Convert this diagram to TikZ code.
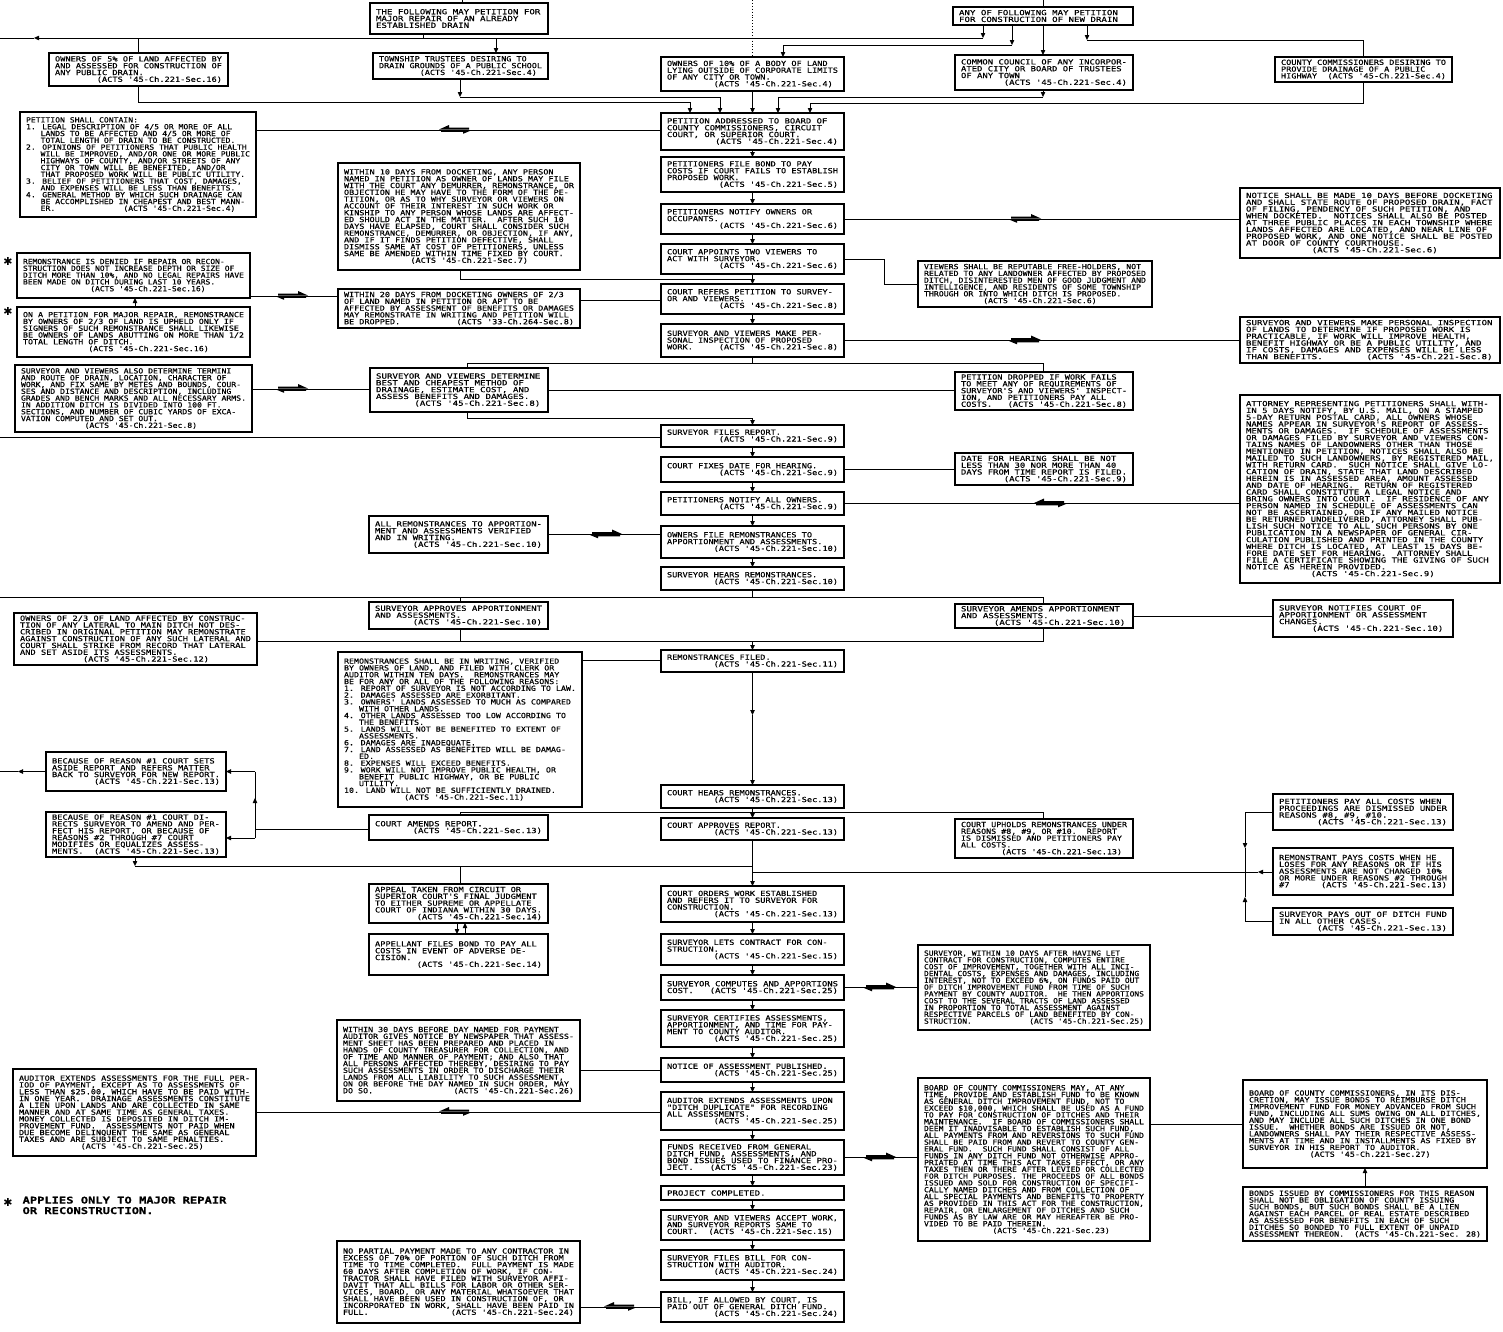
\documentclass[tikz,border=0pt]{standalone}
\usepackage{fontspec}
\usepackage{graphicx}
\usetikzlibrary{arrows.meta}
\newfontfamily\lettering[FakeStretch=1.3,FakeBold=0.35]{DejaVu Sans Mono}
\newfontfamily\symfont{DejaVu Sans}
\newsavebox\tbox
\newlength\tw
\newlength\cw
\newcommand\ind[1]{\hspace*{#1\cw}}
\newcommand\boxtext[3]{%
  \setlength\tw{\dimexpr #2pt-#1pt-12pt\relax}%
  \sbox\tbox{\lettering\fontsize{7}{6.8}\selectfont\settowidth\cw{0}%
    \vbox{\baselineskip=6.8pt\lineskiplimit=-\maxdimen\lineskip=0pt\let\\\cr
      \halign{##\hfil\cr #3\crcr}}}%
  \ifdim\wd\tbox>\tw\relax
    \resizebox{\tw}{\height}{\usebox\tbox}%
  \else
    \makebox[\tw][l]{\usebox\tbox}%
  \fi}
\newcommand\bx[6]{%
  \node[bx, minimum width={(#4-#2)*1pt}, minimum height={(#5-#3)*1pt}]
    (#1) at ({(#2+#4)/2},{(#3+#5)/2}) {\boxtext{#2}{#4}{#6}};}
\pgfdeclarelayer{bg}
\pgfsetlayers{bg,main}
\tikzset{
  bx/.style={draw,fill=white,line width=1.4pt,inner sep=0pt,outer sep=0pt},
  harpL/.pic={\fill (-16,-0.5) -- (-6,-5) -- (-6,-2.4) -- (14,-2.4) -- (14,-0.5) -- cycle;
              \fill (16,0.5) -- (8,3.8) -- (8,1.8) -- (-14,1.8) -- (-14,0.5) -- cycle;}
}
\begin{document}
\begin{tikzpicture}[x=1pt,y=-1pt,line width=1.2pt,>={Triangle[length=5pt,width=4.5pt]}]
\useasboundingbox (0,0) rectangle (1503,1331);

% ---------------- top row
\bx{A}{370}{3}{548}{34}{THE FOLLOWING MAY PETITION FOR\\MAJOR REPAIR OF AN ALREADY\\ESTABLISHED DRAIN}
\bx{B}{953}{7}{1133}{25}{ANY OF FOLLOWING MAY PETITION\\FOR CONSTRUCTION OF NEW DRAIN}
\bx{C1}{49}{53}{228}{86}{OWNERS OF 5\% OF LAND AFFECTED BY\\AND ASSESSED FOR CONSTRUCTION OF\\ANY PUBLIC DRAIN.\\\ind{8}(ACTS '45-Ch.221-Sec.16)}
\bx{C2}{373}{53}{548}{79}{TOWNSHIP TRUSTEES DESIRING TO\\DRAIN GROUNDS OF A PUBLIC SCHOOL\\\ind{8}(ACTS '45-Ch.221-Sec.4)}
\bx{C3}{661}{57}{844}{91}{OWNERS OF 10\% OF A BODY OF LAND\\LYING OUTSIDE OF CORPORATE LIMITS\\OF ANY CITY OR TOWN.\\\ind{9}(ACTS '45-Ch.221-Sec.4)}
\bx{C4}{955}{55}{1133}{90}{COMMON COUNCIL OF ANY INCORPOR-\\ATED CITY OR BOARD OF TRUSTEES\\OF ANY TOWN\\\ind{8}(ACTS '45-Ch.221-Sec.4)}
\bx{C5}{1275}{57}{1452}{82}{COUNTY COMMISSIONERS DESIRING TO\\PROVIDE DRAINAGE OF A PUBLIC\\HIGHWAY \ind{1}(ACTS '45-Ch.221-Sec.4)}

% ---------------- left column
\bx{L1}{20}{112}{256}{217}{PETITION SHALL CONTAIN:\\1. LEGAL DESCRIPTION OF 4/5 OR MORE OF ALL\\\ind{3}LANDS TO BE AFFECTED AND 4/5 OR MORE OF\\\ind{3}TOTAL LENGTH OF DRAIN TO BE CONSTRUCTED.\\2. OPINIONS OF PETITIONERS THAT PUBLIC HEALTH\\\ind{3}WILL BE IMPROVED, AND/OR ONE OR MORE PUBLIC\\\ind{3}HIGHWAYS OF COUNTY, AND/OR STREETS OF ANY\\\ind{3}CITY OR TOWN WILL BE BENEFITED, AND/OR\\\ind{3}THAT PROPOSED WORK WILL BE PUBLIC UTILITY.\\3. BELIEF OF PETITIONERS THAT COST, DAMAGES,\\\ind{3}AND EXPENSES WILL BE LESS THAN BENEFITS.\\4. GENERAL METHOD BY WHICH SUCH DRAINAGE CAN\\\ind{3}BE ACCOMPLISHED IN CHEAPEST AND BEST MANN-\\\ind{3}ER.\ind{14}(ACTS '45-Ch.221-Sec.4)}
\bx{R1}{17}{253}{250}{298}{REMONSTRANCE IS DENIED IF REPAIR OR RECON-\\STRUCTION DOES NOT INCREASE DEPTH OR SIZE OF\\DITCH MORE THAN 10\%, AND NO LEGAL REPAIRS HAVE\\BEEN MADE ON DITCH DURING LAST 10 YEARS.\\\ind{14}(ACTS '45-Ch.221-Sec.16)}
\bx{R2}{17}{307}{250}{357}{ON A PETITION FOR MAJOR REPAIR, REMONSTRANCE\\BY OWNERS OF 2/3 OF LAND IS UPHELD ONLY IF\\SIGNERS OF SUCH REMONSTRANCE SHALL LIKEWISE\\BE OWNERS OF LANDS ABUTTING ON MORE THAN 1/2\\TOTAL LENGTH OF DITCH.\\\ind{13}(ACTS '45-Ch.221-Sec.16)}
\bx{R3}{15}{365}{252}{432}{SURVEYOR AND VIEWERS ALSO DETERMINE TERMINI\\AND ROUTE OF DRAIN, LOCATION, CHARACTER OF\\WORK, AND FIX SAME BY METES AND BOUNDS, COUR-\\SES AND DISTANCE AND DESCRIPTION, INCLUDING\\GRADES AND BENCH MARKS AND ALL NECESSARY ARMS.\\IN ADDITION DITCH IS DIVIDED INTO 100 FT.\\SECTIONS, AND NUMBER OF CUBIC YARDS OF EXCA-\\VATION COMPUTED AND SET OUT.\\\ind{13}(ACTS '45-Ch.221-Sec.8)}
\bx{L2}{14}{613}{257}{665}{OWNERS OF 2/3 OF LAND AFFECTED BY CONSTRUC-\\TION OF ANY LATERAL TO MAIN DITCH NOT DES-\\CRIBED IN ORIGINAL PETITION MAY REMONSTRATE\\AGAINST CONSTRUCTION OF ANY SUCH LATERAL AND\\COURT SHALL STRIKE FROM RECORD THAT LATERAL\\AND SET ASIDE ITS ASSESSMENTS.\\\ind{12}(ACTS '45-Ch.221-Sec.12)}
\bx{L3}{46}{752}{226}{791}{BECAUSE OF REASON \#1 COURT SETS\\ASIDE REPORT AND REFERS MATTER\\BACK TO SURVEYOR FOR NEW REPORT.\\\ind{8}(ACTS '45-Ch.221-Sec.13)}
\bx{L4}{46}{812}{226}{857}{BECAUSE OF REASON \#1 COURT DI-\\RECTS SURVEYOR TO AMEND AND PER-\\FECT HIS REPORT, OR BECAUSE OF\\REASONS \#2 THROUGH \#7 COURT\\MODIFIES OR EQUALIZES ASSESS-\\MENTS.\ind{2}(ACTS '45-Ch.221-Sec.13)}
\bx{L5}{13}{1069}{256}{1156}{AUDITOR EXTENDS ASSESSMENTS FOR THE FULL PER-\\IOD OF PAYMENT, EXCEPT AS TO ASSESSMENTS OF\\LESS THAN \$25.00, WHICH HAVE TO BE PAID WITH-\\IN ONE YEAR.\ind{1} DRAINAGE ASSESSMENTS CONSTITUTE\\A LIEN UPON LANDS AND ARE COLLECTED IN SAME\\MANNER AND AT SAME TIME AS GENERAL TAXES.\\MONEY COLLECTED IS DEPOSITED IN DITCH IM-\\PROVEMENT FUND.\ind{1} ASSESSMENTS NOT PAID WHEN\\DUE BECOME DELINQUENT THE SAME AS GENERAL\\TAXES AND ARE SUBJECT TO SAME PENALTIES.\\\ind{12}(ACTS '45-Ch.221-Sec.25)}

% ---------------- centre-left column
\bx{M1}{338}{163}{580}{270}{WITHIN 10 DAYS FROM DOCKETING, ANY PERSON\\NAMED IN PETITION AS OWNER OF LANDS MAY FILE\\WITH THE COURT ANY DEMURRER, REMONSTRANCE, OR\\OBJECTION HE MAY HAVE TO THE FORM OF THE PE-\\TITION, OR AS TO WHY SURVEYOR OR VIEWERS ON\\ACCOUNT OF THEIR INTEREST IN SUCH WORK OR\\KINSHIP TO ANY PERSON WHOSE LANDS ARE AFFECT-\\ED SHOULD ACT IN THE MATTER.\ind{1} AFTER SUCH 10\\DAYS HAVE ELAPSED, COURT SHALL CONSIDER SUCH\\REMONSTRANCE, DEMURRER, OR OBJECTION, IF ANY,\\AND IF IT FINDS PETITION DEFECTIVE, SHALL\\DISMISS SAME AT COST OF PETITIONERS, UNLESS\\SAME BE AMENDED WITHIN TIME FIXED BY COURT.\\\ind{13}(ACTS '45-Ch.221-Sec.7)}
\bx{M2}{338}{289}{580}{328}{WITHIN 20 DAYS FROM DOCKETING OWNERS OF 2/3\\OF LAND NAMED IN PETITION OR APT TO BE\\AFFECTED BY ASSESSMENT OF BENEFITS OR DAMAGES\\MAY REMONSTRATE IN WRITING AND PETITION WILL\\BE DROPPED.\ind{11}(ACTS '33-Ch.264-Sec.8)}
\bx{M3}{370}{368}{548}{412}{SURVEYOR AND VIEWERS DETERMINE\\BEST AND CHEAPEST METHOD OF\\DRAINAGE, ESTIMATE COST, AND\\ASSESS BENEFITS AND DAMAGES.\\\ind{7}(ACTS '45-Ch.221-Sec.8)}
\bx{M4}{369}{516}{548}{553}{ALL REMONSTRANCES TO APPORTION-\\MENT AND ASSESSMENTS VERIFIED\\AND IN WRITING.\\\ind{7}(ACTS '45-Ch.221-Sec.10)}
\bx{M5}{369}{602}{548}{629}{SURVEYOR APPROVES APPORTIONMENT\\AND ASSESSMENTS.\\\ind{7}(ACTS '45-Ch.221-Sec.10)}
\bx{M6}{338}{652}{582}{807}{REMONSTRANCES SHALL BE IN WRITING, VERIFIED\\BY OWNERS OF LAND, AND FILED WITH CLERK OR\\AUDITOR WITHIN TEN DAYS.\ind{1} REMONSTRANCES MAY\\BE FOR ANY OR ALL OF THE FOLLOWING REASONS:\\1. REPORT OF SURVEYOR IS NOT ACCORDING TO LAW.\\2. DAMAGES ASSESSED ARE EXORBITANT.\\3. OWNERS' LANDS ASSESSED TO MUCH AS COMPARED\\\ind{3}WITH OTHER LANDS.\\4. OTHER LANDS ASSESSED TOO LOW ACCORDING TO\\\ind{3}THE BENEFITS.\\5. LANDS WILL NOT BE BENEFITED TO EXTENT OF\\\ind{3}ASSESSMENTS.\\6. DAMAGES ARE INADEQUATE.\\7. LAND ASSESSED AS BENEFITED WILL BE DAMAG-\\\ind{3}ED.\\8. EXPENSES WILL EXCEED BENEFITS.\\9. WORK WILL NOT IMPROVE PUBLIC HEALTH, OR\\\ind{3}BENEFIT PUBLIC HIGHWAY, OR BE PUBLIC\\\ind{3}UTILITY.\\10. LAND WILL NOT BE SUFFICIENTLY DRAINED.\\\ind{12}(ACTS '45-Ch.221-Sec.11)}
\bx{M7}{369}{815}{548}{840}{COURT AMENDS REPORT.\\\ind{7}(ACTS '45-Ch.221-Sec.13)}
\bx{M8}{369}{884}{548}{923}{APPEAL TAKEN FROM CIRCUIT OR\\SUPERIOR COURT'S FINAL JUDGMENT\\TO EITHER SUPREME OR APPELLATE\\COURT OF INDIANA WITHIN 30 DAYS.\\\ind{8}(ACTS '45-Ch.221-Sec.14)}
\bx{M9}{369}{934}{548}{975}{APPELLANT FILES BOND TO PAY ALL\\COSTS IN EVENT OF ADVERSE DE-\\CISION.\\\ind{8}(ACTS '45-Ch.221-Sec.14)}
\bx{M10}{337}{1020}{580}{1101}{WITHIN 30 DAYS BEFORE DAY NAMED FOR PAYMENT\\AUDITOR GIVES NOTICE BY NEWSPAPER THAT ASSESS-\\MENT SHEET HAS BEEN PREPARED AND PLACED IN\\HANDS OF COUNTY TREASURER FOR COLLECTION, AND\\OF TIME AND MANNER OF PAYMENT; AND ALSO THAT\\ALL PERSONS AFFECTED THEREBY, DESIRING TO PAY\\SUCH ASSESSMENTS IN ORDER TO DISCHARGE THEIR\\LANDS FROM ALL LIABILITY TO SUCH ASSESSMENT,\\ON OR BEFORE THE DAY NAMED IN SUCH ORDER, MAY\\DO SO.\ind{16}(ACTS '45-Ch.221-Sec.26)}
\bx{M11}{337}{1241}{580}{1323}{NO PARTIAL PAYMENT MADE TO ANY CONTRACTOR IN\\EXCESS OF 70\% OF PORTION OF SUCH DITCH FROM\\TIME TO TIME COMPLETED.\ind{1} FULL PAYMENT IS MADE\\60 DAYS AFTER COMPLETION OF WORK, IF CON-\\TRACTOR SHALL HAVE FILED WITH SURVEYOR AFFI-\\DAVIT THAT ALL BILLS FOR LABOR OR OTHER SER-\\VICES, BOARD, OR ANY MATERIAL WHATSOEVER THAT\\SHALL HAVE BEEN USED IN CONSTRUCTION OF, OR\\INCORPORATED IN WORK, SHALL HAVE BEEN PAID IN\\FULL.\ind{16}(ACTS '45-Ch.221-Sec.24)}

% ---------------- centre column
\bx{P1}{661}{113}{844}{150}{PETITION ADDRESSED TO BOARD OF\\COUNTY COMMISSIONERS, CIRCUIT\\COURT, OR SUPERIOR COURT.\\\ind{9}(ACTS '45-Ch.221-Sec.4)}
\bx{P2}{661}{157}{844}{192}{PETITIONERS FILE BOND TO PAY\\COSTS IF COURT FAILS TO ESTABLISH\\PROPOSED WORK.\\\ind{10}(ACTS '45-Ch.221-Sec.5)}
\bx{P3}{661}{204}{844}{234}{PETITIONERS NOTIFY OWNERS OR\\OCCUPANTS.\\\ind{10}(ACTS '45-Ch.221-Sec.6)}
\bx{P4}{661}{244}{844}{274}{COURT APPOINTS TWO VIEWERS TO\\ACT WITH SURVEYOR.\\\ind{10}(ACTS '45-Ch.221-Sec.6)}
\bx{P5}{661}{284}{844}{314}{COURT REFERS PETITION TO SURVEY-\\OR AND VIEWERS.\\\ind{10}(ACTS '45-Ch.221-Sec.8)}
\bx{P6}{661}{324}{844}{357}{SURVEYOR AND VIEWERS MAKE PER-\\SONAL INSPECTION OF PROPOSED\\WORK.\ind{5}(ACTS '45-Ch.221-Sec.8)}
\bx{P7}{661}{425}{844}{447}{SURVEYOR FILES REPORT.\\\ind{10}(ACTS '45-Ch.221-Sec.9)}
\bx{P8}{661}{457}{844}{482}{COURT FIXES DATE FOR HEARING.\\\ind{10}(ACTS '45-Ch.221-Sec.9)}
\bx{P9}{661}{492}{844}{515}{PETITIONERS NOTIFY ALL OWNERS.\\\ind{10}(ACTS '45-Ch.221-Sec.9)}
\bx{P10}{661}{526}{844}{558}{OWNERS FILE REMONSTRANCES TO\\APPORTIONMENT AND ASSESSMENTS.\\\ind{9}(ACTS '45-Ch.221-Sec.10)}
\bx{P11}{661}{567}{844}{590}{SURVEYOR HEARS REMONSTRANCES.\\\ind{9}(ACTS '45-Ch.221-Sec.10)}
\bx{P12}{661}{650}{844}{672}{REMONSTRANCES FILED.\\\ind{9}(ACTS '45-Ch.221-Sec.11)}
\bx{P13}{661}{785}{844}{808}{COURT HEARS REMONSTRANCES.\\\ind{9}(ACTS '45-Ch.221-Sec.13)}
\bx{P14}{661}{818}{844}{840}{COURT APPROVES REPORT.\\\ind{9}(ACTS '45-Ch.221-Sec.13)}
\bx{P15}{661}{886}{844}{922}{COURT ORDERS WORK ESTABLISHED\\AND REFERS IT TO SURVEYOR FOR\\CONSTRUCTION.\\\ind{9}(ACTS '45-Ch.221-Sec.13)}
\bx{P16}{661}{934}{844}{965}{SURVEYOR LETS CONTRACT FOR CON-\\STRUCTION.\\\ind{9}(ACTS '45-Ch.221-Sec.15)}
\bx{P17}{661}{975}{844}{1000}{SURVEYOR COMPUTES AND APPORTIONS\\COST.\ind{3}(ACTS '45-Ch.221-Sec.25)}
\bx{P18}{661}{1010}{844}{1047}{SURVEYOR CERTIFIES ASSESSMENTS,\\APPORTIONMENT, AND TIME FOR PAY-\\MENT TO COUNTY AUDITOR.\\\ind{9}(ACTS '45-Ch.221-Sec.25)}
\bx{P19}{661}{1058}{844}{1082}{NOTICE OF ASSESSMENT PUBLISHED.\\\ind{9}(ACTS '45-Ch.221-Sec.25)}
\bx{P20}{661}{1092}{844}{1130}{AUDITOR EXTENDS ASSESSMENTS UPON\\"DITCH DUPLICATE" FOR RECORDING\\ALL ASSESSMENTS.\\\ind{9}(ACTS '45-Ch.221-Sec.25)}
\bx{P21}{661}{1140}{844}{1175}{FUNDS RECEIVED FROM GENERAL\\DITCH FUND, ASSESSMENTS, AND\\BOND ISSUES USED TO FINANCE PRO-\\JECT.\ind{3}(ACTS '45-Ch.221-Sec.23)}
\bx{P22}{661}{1186}{844}{1200}{PROJECT COMPLETED.}
\bx{P23}{661}{1210}{844}{1240}{SURVEYOR AND VIEWERS ACCEPT WORK,\\AND SURVEYOR REPORTS SAME TO\\COURT.\ind{2}(ACTS '45-Ch.221-Sec.15)}
\bx{P24}{661}{1250}{844}{1280}{SURVEYOR FILES BILL FOR CON-\\STRUCTION WITH AUDITOR.\\\ind{9}(ACTS '45-Ch.221-Sec.24)}
\bx{P25}{661}{1292}{844}{1322}{BILL, IF ALLOWED BY COURT, IS\\PAID OUT OF GENERAL DITCH FUND.\\\ind{9}(ACTS '45-Ch.221-Sec.24)}

% ---------------- centre-right column
\bx{N1}{918}{261}{1152}{307}{VIEWERS SHALL BE REPUTABLE FREE-HOLDERS, NOT\\RELATED TO ANY LANDOWNER AFFECTED BY PROPOSED\\DITCH, DISINTERESTED MEN OF GOOD JUDGMENT AND\\INTELLIGENCE, AND RESIDENTS OF SOME TOWNSHIP\\THROUGH OR INTO WHICH DITCH IS PROPOSED.\\\ind{12}(ACTS '45-Ch.221-Sec.6)}
\bx{N2}{955}{372}{1133}{410}{PETITION DROPPED IF WORK FAILS\\TO MEET ANY OF REQUIREMENTS OF\\SURVEYOR'S AND VIEWERS' INSPECT-\\ION, AND PETITIONERS PAY ALL\\COSTS.\ind{3}(ACTS '45-Ch.221-Sec.8)}
\bx{N3}{955}{453}{1133}{485}{DATE FOR HEARING SHALL BE NOT\\LESS THAN 30 NOR MORE THAN 40\\DAYS FROM TIME REPORT IS FILED.\\\ind{8}(ACTS '45-Ch.221-Sec.9)}
\bx{N4}{955}{604}{1133}{628}{SURVEYOR AMENDS APPORTIONMENT\\AND ASSESSMENTS.\\\ind{6}(ACTS '45-Ch.221-Sec.10)}
\bx{N5}{955}{819}{1133}{858}{COURT UPHOLDS REMONSTRANCES UNDER\\REASONS \#8, \#9, OR \#10.\ind{1} REPORT\\IS DISMISSED AND PETITIONERS PAY\\ALL COSTS.\\\ind{8}(ACTS '45-Ch.221-Sec.13)}
\bx{N6}{918}{945}{1150}{1030}{SURVEYOR, WITHIN 10 DAYS AFTER HAVING LET\\CONTRACT FOR CONSTRUCTION, COMPUTES ENTIRE\\COST OF IMPROVEMENT, TOGETHER WITH ALL INCI-\\DENTAL COSTS, EXPENSES AND DAMAGES, INCLUDING\\INTEREST, NOT TO EXCEED 6\%, ON FUNDS PAID OUT\\OF DITCH IMPROVEMENT FUND FROM TIME OF SUCH\\PAYMENT BY COUNTY AUDITOR.\ind{1} HE THEN APPORTIONS\\COST TO THE SEVERAL TRACTS OF LAND ASSESSED\\IN PROPORTION TO TOTAL ASSESSMENT AGAINST\\RESPECTIVE PARCELS OF LAND BENEFITED BY CON-\\STRUCTION.\ind{12}(ACTS '45-Ch.221-Sec.25)}
\bx{N7}{918}{1078}{1150}{1241}{BOARD OF COUNTY COMMISSIONERS MAY, AT ANY\\TIME, PROVIDE AND ESTABLISH FUND TO BE KNOWN\\AS GENERAL DITCH IMPROVEMENT FUND, NOT TO\\EXCEED \$10,000, WHICH SHALL BE USED AS A FUND\\TO PAY FOR CONSTRUCTION OF DITCHES AND THEIR\\MAINTENANCE.\ind{1} IF BOARD OF COMMISSIONERS SHALL\\DEEM IT INADVISABLE TO ESTABLISH SUCH FUND,\\ALL PAYMENTS FROM AND REVERSIONS TO SUCH FUND\\SHALL BE PAID FROM AND REVERT TO COUNTY GEN-\\ERAL FUND.\ind{1} SUCH FUND SHALL CONSIST OF ALL\\FUNDS IN ANY DITCH FUND NOT OTHERWISE APPRO-\\PRIATED AT TIME THIS ACT TAKES EFFECT, OR ANY\\TAXES THEN OR THERE AFTER LEVIED OR COLLECTED\\FOR DITCH PURPOSES. THE PROCEEDS OF ALL BONDS\\ISSUED AND SOLD FOR CONSTRUCTION OF SPECIFI-\\CALLY NAMED DITCHES AND FROM COLLECTION OF\\ALL SPECIAL PAYMENTS AND BENEFITS TO PROPERTY\\AS PROVIDED IN THIS ACT FOR THE CONSTRUCTION,\\REPAIR, OR ENLARGEMENT OF DITCHES AND SUCH\\FUNDS AS BY LAW ARE OR MAY HEREAFTER BE PRO-\\VIDED TO BE PAID THEREIN.\\\ind{14}(ACTS '45-Ch.221-Sec.23)}

% ---------------- right column
\bx{Q1}{1240}{188}{1500}{258}{NOTICE SHALL BE MADE 10 DAYS BEFORE DOCKETING\\AND SHALL STATE ROUTE OF PROPOSED DRAIN, FACT\\OF FILING, PENDENCY OF SUCH PETITION, AND\\WHEN DOCKETED.\ind{1} NOTICES SHALL ALSO BE POSTED\\AT THREE PUBLIC PLACES IN EACH TOWNSHIP WHERE\\LANDS AFFECTED ARE LOCATED, AND NEAR LINE OF\\PROPOSED WORK, AND ONE NOTICE SHALL BE POSTED\\AT DOOR OF COUNTY COURTHOUSE.\\\ind{12}(ACTS '45-Ch.221-Sec.6)}
\bx{Q2}{1240}{317}{1500}{363}{SURVEYOR AND VIEWERS MAKE PERSONAL INSPECTION\\OF LANDS TO DETERMINE IF PROPOSED WORK IS\\PRACTICABLE, IF WORK WILL IMPROVE HEALTH,\\BENEFIT HIGHWAY OR BE A PUBLIC UTILITY, AND\\IF COSTS, DAMAGES AND EXPENSES WILL BE LESS\\THAN BENEFITS.\ind{8}(ACTS '45-Ch.221-Sec.8)}
\bx{Q3}{1240}{395}{1500}{583}{ATTORNEY REPRESENTING PETITIONERS SHALL WITH-\\IN 5 DAYS NOTIFY, BY U.S. MAIL, ON A STAMPED\\5-DAY RETURN POSTAL CARD, ALL OWNERS WHOSE\\NAMES APPEAR IN SURVEYOR'S REPORT OF ASSESS-\\MENTS OR DAMAGES.\ind{1} IF SCHEDULE OF ASSESSMENTS\\OR DAMAGES FILED BY SURVEYOR AND VIEWERS CON-\\TAINS NAMES OF LANDOWNERS OTHER THAN THOSE\\MENTIONED IN PETITION, NOTICES SHALL ALSO BE\\MAILED TO SUCH LANDOWNERS, BY REGISTERED MAIL,\\WITH RETURN CARD.\ind{1} SUCH NOTICE SHALL GIVE LO-\\CATION OF DRAIN, STATE THAT LAND DESCRIBED\\HEREIN IS IN ASSESSED AREA, AMOUNT ASSESSED\\AND DATE OF HEARING.\ind{1} RETURN OF REGISTERED\\CARD SHALL CONSTITUTE A LEGAL NOTICE AND\\BRING OWNERS INTO COURT.\ind{1} IF RESIDENCE OF ANY\\PERSON NAMED IN SCHEDULE OF ASSESSMENTS CAN\\NOT BE ASCERTAINED, OR IF ANY MAILED NOTICE\\BE RETURNED UNDELIVERED, ATTORNEY SHALL PUB-\\LISH SUCH NOTICE TO ALL SUCH PERSONS BY ONE\\PUBLICATION IN A NEWSPAPER OF GENERAL CIR-\\CULATION PUBLISHED AND PRINTED IN THE COUNTY\\WHERE DITCH IS LOCATED, AT LEAST 15 DAYS BE-\\FORE DATE SET FOR HEARING.\ind{1} ATTORNEY SHALL\\FILE A CERTIFICATE SHOWING THE GIVING OF SUCH\\NOTICE AS HEREIN PROVIDED.\\\ind{12}(ACTS '45-Ch.221-Sec.9)}
\bx{Q4}{1273}{600}{1453}{637}{SURVEYOR NOTIFIES COURT OF\\APPORTIONMENT OR ASSESSMENT\\CHANGES.\\\ind{6}(ACTS '45-Ch.221-Sec.10)}
\bx{Q5}{1273}{794}{1453}{830}{PETITIONERS PAY ALL COSTS WHEN\\PROCEEDINGS ARE DISMISSED UNDER\\REASONS \#8, \#9, \#10.\\\ind{7}(ACTS '45-Ch.221-Sec.13)}
\bx{Q6}{1273}{848}{1453}{895}{REMONSTRANT PAYS COSTS WHEN HE\\LOSES FOR ANY REASONS OR IF HIS\\ASSESSMENTS ARE NOT CHANGED 10\%\\OR MORE UNDER REASONS \#2 THROUGH\\\#7\ind{6}(ACTS '45-Ch.221-Sec.13)}
\bx{Q7}{1273}{908}{1453}{935}{SURVEYOR PAYS OUT OF DITCH FUND\\IN ALL OTHER CASES.\\\ind{7}(ACTS '45-Ch.221-Sec.13)}
\bx{Q8}{1243}{1080}{1487}{1168}{BOARD OF COUNTY COMMISSIONERS, IN ITS DIS-\\CRETION, MAY ISSUE BONDS TO REIMBURSE DITCH\\IMPROVEMENT FUND FOR MONEY ADVANCED FROM SUCH\\FUND, INCLUDING ALL SUMS OWING ON ALL DITCHES,\\AND MAY INCLUDE ALL SUCH DITCHES IN ONE BOND\\ISSUE.\ind{1} WHETHER BONDS ARE ISSUED OR NOT,\\LANDOWNERS SHALL PAY THEIR RESPECTIVE ASSESS-\\MENTS AT TIME AND IN INSTALLMENTS AS FIXED BY\\SURVEYOR IN HIS REPORT TO AUDITOR.\\\ind{12}(ACTS '45-Ch.221-Sec.27)}
\bx{Q9}{1243}{1187}{1487}{1241}{BONDS ISSUED BY COMMISSIONERS FOR THIS REASON\\SHALL NOT BE OBLIGATION OF COUNTY ISSUING\\SUCH BONDS, BUT SUCH BONDS SHALL BE A LIEN\\AGAINST EACH PARCEL OF REAL ESTATE DESCRIBED\\AS ASSESSED FOR BENEFITS IN EACH OF SUCH\\DITCHES SO BONDED TO FULL EXTENT OF UNPAID\\ASSESSMENT THEREON.\ind{2}(ACTS '45-Ch.221-Sec. 28)}

% ---------------- stars and footnote
\node[font=\symfont\fontsize{11}{11}\selectfont,inner sep=0pt] (st1) at (8,261) {✱};
\node[font=\symfont\fontsize{11}{11}\selectfont,inner sep=0pt] (st2) at (8,311) {✱};
\node[font=\symfont\fontsize{11}{11}\selectfont,inner sep=0pt] (st3) at (8,1202) {✱};
\node[anchor=north west,inner sep=0pt,align=left,font={\lettering\bfseries\fontsize{9.3}{10.5}\selectfont}] (fn) at (22,1196) {APPLIES ONLY TO MAJOR REPAIR\\OR RECONSTRUCTION.};

\begin{pgfonlayer}{bg}
\fill[white] (0,0) rectangle (1503,1331);
% ---- top
\coordinate (tA) at (462,0);
\coordinate (tB) at (1043,0);
\coordinate (tD) at (752.5,0);
\draw (tA) -- (tA |- A.north);
\draw (tB) -- (tB |- B.north);
\draw[dotted,line width=0.9pt] (tD) -- (tD |- C3.north);
\coordinate (jA) at (423,38);
\coordinate (bL) at (0,38);
\coordinate (bLa) at (34,38);
\coordinate (jB) at (983,38);
\draw (jA |- A.south) -- (jA);
\draw[->] (jB) -- (bLa);
\draw (bLa) -- (bL);
\draw[->] (jB |- B.south) -- (jB);
\draw (C1.north |- bL) -- (C1.north);
\coordinate (j2) at (496,38);
\draw[->] (j2) -- (j2 |- C2.north);
\coordinate (j3) at (1012,45);
\coordinate (j3b) at (783,45);
\draw[->] (j3 |- B.south) -- (j3);
\draw[->] (j3) -- (j3b) -- (j3b |- C3.north);
\draw[->] (tB |- B.south) -- (tB |- C4.north);
\coordinate (j5) at (1087,40);
\draw[->] (j5 |- B.south) -- (j5);
\draw (j5) -| (C5.north);
% ---- petitioners into P1
\coordinate (k1) at (690,102);
\draw[->] (C1.south) |- (k1) -- (k1 |- P1.north);
\coordinate (k2a) at (460,97);
\coordinate (k2) at (720,97);
\draw[->] (k2a |- C2.south) -- (k2a);
\draw[->] (k2a) -- (k2) -- (k2 |- P1.north);
\draw[->] (C3.south) -- (C3.south |- P1.north);
\coordinate (k4a) at (1043,97);
\coordinate (k4) at (778,97);
\draw[->] (tB |- C4.south) -- (k4a);
\draw[->] (k4a) -- (k4) -- (k4 |- P1.north);
\coordinate (k5) at (810,103);
\draw[->] (C5.south) |- (k5) -- (k5 |- P1.north);
% ---- centre chain
\foreach \a/\b in {P1/P2,P2/P3,P3/P4,P4/P5,P5/P6,P7/P8,P8/P9,P9/P10,P10/P11,P15/P16,P16/P17,P17/P18,P18/P19,P19/P20,P20/P21,P21/P22,P22/P23,P23/P24,P24/P25}
  \draw[->] (\a.south) -- (\a.south |- \b.north);
% ---- side links upper part
\draw (L1.east |- 0,130) -- (P1.west |- 0,130);
\draw (P3.east) -- (P3.east -| Q1.west);
\draw (P4.east) -- ++(40,0) |- (N1.west);
\coordinate (m1j) at (460,279);
\draw (m1j |- M1.south) -- (m1j) -- (m1j -| P5.north);
\draw (R1.east |- 0,296) -- (M2.west |- 0,296);
\draw (M2.east |- 0,300) -- (P5.west |- 0,300);
\draw[->] (R2.north -| 135,0) -- (R1.south -| 135,0);
\coordinate (m3t) at (467,363);
\coordinate (n2t) at (1043,363);
\draw (P6.south) -- (P6.south |- m3t);
\draw (m3t |- M3.north) -- (m3t) -- (n2t) -- (n2t |- N2.north);
\draw (P6.east) -- (P6.east -| Q2.west);
\draw (R3.east |- 0,389) -- (M3.west |- 0,389);
\draw (M3.east |- 0,390) -- (N2.west |- 0,390);
\coordinate (m3b) at (467,418);
\draw[->] (m3b |- M3.south) -- (m3b) -- (m3b -| P7.north) -- (P7.north);
\coordinate (e7) at (0,437);
\draw (e7) -- (e7 -| P7.west);
\draw (P8.east) -- (P8.east -| N3.west);
\draw (P9.east) -- (P9.east -| Q3.west);
\draw (M4.east) -- (M4.east -| P10.west);
% ---- apportionment
\coordinate (e597) at (0,597);
\coordinate (n4t) at (1043,597);
\coordinate (m5t) at (460,597);
\draw (P11.south) -- (P11.south |- e597);
\draw (e597) -- (n4t) -- (n4t |- N4.north);
\draw (m5t) -- (m5t |- M5.north);
\coordinate (n4b) at (1043,641);
\coordinate (m5b) at (460,641);
\draw (L2.east |- n4b) -- (n4b) -- (n4b |- N4.south);
\draw (m5b |- M5.south) -- (m5b);
\draw[->] (P12.north |- n4b) -- (P12.north);
\draw (N4.east) -- (N4.east -| Q4.west);
\draw (M6.east |- 0,660) -- (P12.west |- 0,660);
\coordinate (p12m) at (752.5,715);
\draw[->] (P12.south) -- (p12m);
\draw[->] (p12m) -- (P13.north);
% ---- hearing
\coordinate (m7t) at (460,812);
\coordinate (n5t) at (1043,812);
\draw (P13.south) -- (P13.south |- m7t);
\draw[->] (P13.south |- m7t) -- (P14.north);
\draw (m7t |- M7.north) -- (m7t) -- (n5t) -- (n5t |- N5.north);
\coordinate (v1) at (255,829);
\coordinate (v3) at (255,771.5);
\coordinate (v4) at (255,838);
\coordinate (vu) at (255,798);
\draw (M7.west |- v1) -- (v1);
\draw (v3) -- (v4);
\draw[->] (v1) -- (vu);
\draw[->] (v3) -- (v3 -| L3.east);
\draw[->] (v4) -- (v4 -| L4.east);
\coordinate (e772) at (0,771.5);
\coordinate (e772a) at (18,771.5);
\draw[->] (L3.west) -- (e772a);
\draw (e772a) -- (e772);
\coordinate (l4b) at (135,866);
\coordinate (m8t) at (460,866);
\draw[->] (l4b |- L4.south) -- (l4b);
\draw (l4b) -- (l4b -| P14.south);
\draw (m8t) -- (m8t |- M8.north);
\draw[->] (P14.south) -- (P15.north);
\coordinate (cb) at (1245,872);
\coordinate (cq5) at (1245,848);
\coordinate (cq7) at (1245,897);
\coordinate (cq6) at (1258,872);
\draw (P14.south |- cb) -- (cb);
\draw[->] (Q5.west) -| (cq5);
\draw (cq5) -- (cb);
\draw[->] (Q7.west) -| (cq7);
\draw (cq7) -- (cb);
\draw[->] (Q6.west |- cq6) -- (cq6);
\draw (cq6) -- (cb);
\draw[->] (M8.south -| 457,0) -- (M9.north -| 457,0);
\draw[->] (M9.north -| 465,0) -- (M8.south -| 465,0);
% ---- construction
\draw (P17.east) -- (P17.east -| N6.west);
\draw (M10.east |- 0,1070) -- (P19.west |- 0,1070);
\draw (L5.east |- 0,1112) -- (P20.west |- 0,1112);
\draw (P21.east) -- (P21.east -| N7.west);
\draw (N7.east |- Q8.west) -- (Q8.west);
\draw[->] (Q9.north -| 1365,0) -- (Q8.south -| 1365,0);
\draw (M11.east |- 0,1307) -- (P25.west |- 0,1307);
% ---- double harpoon marks
\pic at (455,130) {harpL};
\pic[xscale=-1] at (1025,219) {harpL};
\pic[xscale=-1] at (292,296) {harpL};
\pic[xscale=-1] at (1025,340.5) {harpL};
\pic[xscale=-1] at (292,389) {harpL};
\pic at (1050,503.5) {harpL};
\pic[xscale=-1] at (606,534.5) {harpL};
\pic at (455,1112) {harpL};
\pic[xscale=-1] at (880,987.5) {harpL};
\pic[xscale=-1] at (880,1157.5) {harpL};
\pic at (620,1307) {harpL};
\end{pgfonlayer}
\end{tikzpicture}
\end{document}
